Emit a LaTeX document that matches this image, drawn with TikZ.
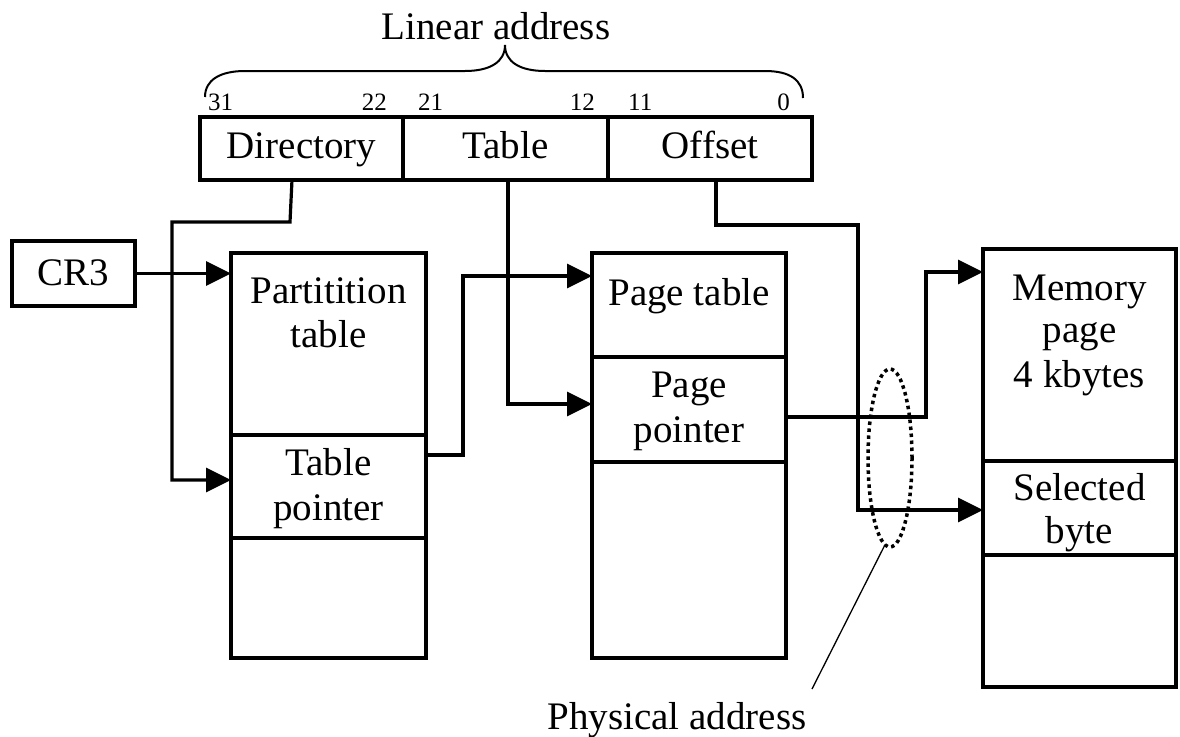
\documentclass[tikz,border=0pt]{standalone}
\usepackage{fontspec}
\setmainfont{Liberation Serif}
\usetikzlibrary{arrows.meta,shapes.geometric}
\newcommand{\mainsize}{\fontsize{39}{44}\selectfont}
\newcommand{\bitsize}{\fontsize{25}{28}\selectfont}
\begin{document}
\begin{tikzpicture}[x=1pt,y=-1pt,
  cell/.style={draw, line width=3.2pt, inner sep=0pt, outer sep=0pt},
  lbl/.style={font=\mainsize, inner sep=0pt, anchor=base},
  bit/.style={font=\bitsize, inner sep=0pt},
  conn/.style={line width=3.2pt, -{Triangle[length=25pt,width=24pt]}},
]
\fill[white] (0,0) rectangle (1180,736);
\useasboundingbox (0,0) rectangle (1180,736);

% linear address fields
\node[cell, minimum width=203pt, minimum height=63pt] (dir) at (301.5,148.5) {};
\node[cell, minimum width=205pt, minimum height=63pt] (tbl) at (505.5,148.5) {};
\node[cell, minimum width=204pt, minimum height=63pt] (off) at (710,148.5) {};
\node[lbl] (dirT) at (301.5,158) {Directory};
\node[lbl] (tblT) at (505.5,158) {Table};
\node[lbl] (offT) at (710,158) {Offset};

% bit numbers
\node[bit, anchor=base west] (b31) at (208,110) {31};
\node[bit, anchor=base east] (b22) at (387,110) {22};
\node[bit, anchor=base west] (b21) at (418,110) {21};
\node[bit, anchor=base east] (b12) at (595,110) {12};
\node[bit, anchor=base west] (b11) at (628,110) {11};
\node[bit, anchor=base east] (b0) at (790,110) {0};

% brace and title
\draw[line width=2pt] (205,97) .. controls (205,80) and (220,71) .. (245,71)
  -- (465,71) .. controls (490,71) and (505,62) .. (505,45)
  .. controls (505,62) and (520,71) .. (545,71)
  -- (765,71) .. controls (790,71) and (803,80) .. (803,98);
\node[lbl] (lin) at (496,39) {Linear address};

% CR3 register
\node[cell, minimum width=123pt, minimum height=65pt] (cr3) at (73.5,273.5) {};
\node[lbl] (cr3T) at (73.5,285) {CR3};

% partition table
\node[cell, minimum width=195pt, minimum height=182pt] (pt1) at (328.5,344) {};
\node[cell, minimum width=195pt, minimum height=103pt] (pt2) at (328.5,486.5) {};
\node[cell, minimum width=195pt, minimum height=120pt] (pt3) at (328.5,598) {};
\node[lbl] (pt1a) at (328.5,303) {Partitition};
\node[lbl] (pt1b) at (328.5,347) {table};
\node[lbl] (pt2a) at (328.5,475) {Table};
\node[lbl] (pt2b) at (328.5,520) {pointer};

% page table
\node[cell, minimum width=194pt, minimum height=104pt] (pg1) at (689,305) {};
\node[cell, minimum width=194pt, minimum height=105pt] (pg2) at (689,409.5) {};
\node[cell, minimum width=194pt, minimum height=196pt] (pg3) at (689,560) {};
\node[lbl] (pg1a) at (689,305) {Page table};
\node[lbl] (pg2a) at (689,397) {Page};
\node[lbl] (pg2b) at (689,442) {pointer};

% memory page
\node[cell, minimum width=193pt, minimum height=212pt] (m1) at (1079.5,355) {};
\node[cell, minimum width=193pt, minimum height=94pt] (m2) at (1079.5,508) {};
\node[cell, minimum width=193pt, minimum height=132pt] (m3) at (1079.5,621) {};
\node[lbl] (m1a) at (1079.5,300) {Memory};
\node[lbl] (m1b) at (1079.5,342) {page};
\node[lbl] (m1c) at (1079.5,387) {4 kbytes};
\node[lbl] (m2a) at (1079.5,500) {Selected};
\node[lbl] (m2b) at (1079.5,543) {byte};

% connectors
\draw[conn] (cr3.east) -- (cr3.east -| pt1.west);
\draw[conn] ([xshift=-9.5pt]dir.south) -- (290,222) -- (172,222) |- ([yshift=6.5pt]pt2.west);
\draw[conn] ([yshift=31.5pt]pt2.east) -- (463,455) |- ([yshift=29pt]pg1.west);
\draw[conn] ([xshift=2.5pt]tbl.south) |- ([yshift=5.5pt]pg2.west);
\draw[conn] ([xshift=6pt]off.south) -- (716,225) -- (858,225) |- ([yshift=-2pt]m2.west);
\draw[conn] ([yshift=-7.5pt]pg2.east) -- (926,417) |- ([yshift=83pt]m1.west);

% physical address marker
\node[draw, ellipse, line width=3.5pt, dash pattern=on 3.5pt off 3.5pt,
      minimum width=44pt, minimum height=178pt, inner sep=0pt] (phys) at (890,458) {};
\node[lbl] (physT) at (677,729) {Physical address};
\coordinate (tail) at (812,689);
\draw[line width=1.3pt] ([xshift=-5pt,yshift=4pt]phys.south) -- (tail);
\end{tikzpicture}
\end{document}
